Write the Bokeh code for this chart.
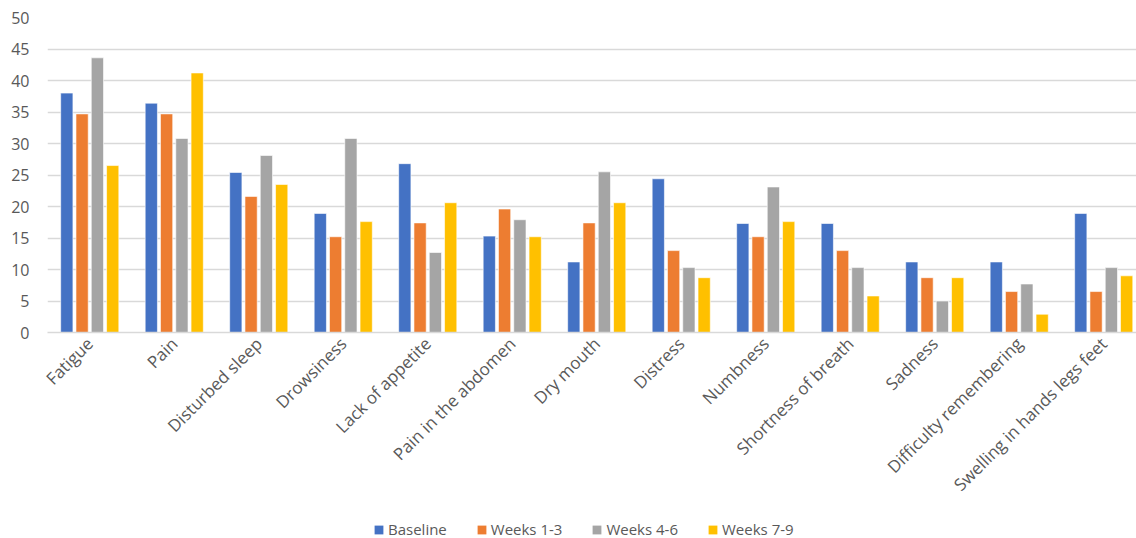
from math import pi

from bokeh.embed import file_html
from bokeh.layouts import column
from bokeh.models import (ColumnDataSource, FixedTicker, Legend, LegendItem,
                          Range1d, SingleIntervalTicker)
from bokeh.plotting import figure
from bokeh.resources import INLINE
from bokeh.transform import dodge

# Symptom categories and mean scores per assessment period
symptoms = [
    "Fatigue", "Pain", "Disturbed sleep", "Drowsiness", "Lack of appetite",
    "Pain in the abdomen", "Dry mouth", "Distress", "Numbness",
    "Shortness of breath", "Sadness", "Difficulty remembering",
    "Swelling in hands legs feet",
]
baseline = [38.0, 36.4, 25.4, 18.9, 26.8, 15.3, 11.2, 24.4, 17.3, 17.3, 11.2, 11.2, 18.9]
weeks_1_3 = [34.7, 34.7, 21.6, 15.2, 17.4, 19.6, 17.4, 13.0, 15.2, 13.0, 8.7, 6.5, 6.5]
weeks_4_6 = [43.6, 30.8, 28.1, 30.8, 12.7, 17.9, 25.5, 10.3, 23.1, 10.3, 5.0, 7.7, 10.3]
weeks_7_9 = [26.5, 41.2, 23.5, 17.6, 20.6, 15.2, 20.6, 8.7, 17.6, 5.8, 8.7, 2.9, 9.0]

series_names = ["Baseline", "Weeks 1-3", "Weeks 4-6", "Weeks 7-9"]
series_values = [baseline, weeks_1_3, weeks_4_6, weeks_7_9]
series_colors = ["#4472C4", "#ED7D31", "#A5A5A5", "#FFC000"]

centers = [i + 0.5 for i in range(len(symptoms))]
data = {"x": centers}
for name, vals in zip(series_names, series_values):
    data[name] = vals
source = ColumnDataSource(data)

FONT = "Open Sans"
TEXT_COLOR = "#595959"
GRID_COLOR = "#D9D9D9"

# ---- main bar chart ----
p = figure(
    width=1136, height=510,
    x_range=Range1d(0, 12.888), y_range=Range1d(0, 50),
    output_backend="svg", toolbar_location=None,
    min_border_left=47, min_border_right=0,
    min_border_top=17, min_border_bottom=178,
)
p.outline_line_color = None
p.background_fill_color = "white"
p.border_fill_color = "white"

pitch = 0.181
bar_width = 0.145
for k, (name, color) in enumerate(zip(series_names, series_colors)):
    p.vbar(
        x=dodge("x", (k - 1.5) * pitch, range=p.x_range),
        top=name, width=bar_width, bottom=0, source=source,
        fill_color=color, line_color="white", line_width=1, line_alpha=0.6,
    )

# Horizontal grid
p.xgrid.grid_line_color = None
p.ygrid.grid_line_color = GRID_COLOR
p.ygrid.grid_line_width = 1.3
p.ygrid.ticker = SingleIntervalTicker(interval=5)

# Y axis
p.yaxis.ticker = SingleIntervalTicker(interval=5)
p.yaxis.axis_line_color = None
p.yaxis.major_tick_line_color = None
p.yaxis.minor_tick_line_color = None
p.yaxis.major_tick_out = 0
p.yaxis.major_label_standoff = 14
p.yaxis.major_label_text_font = FONT
p.yaxis.major_label_text_font_size = "16px"
p.yaxis.major_label_text_color = TEXT_COLOR

# X axis with symptom names
p.xaxis.ticker = FixedTicker(ticks=centers)
p.xaxis.major_label_overrides = {c: s for c, s in zip(centers, symptoms)}
p.xaxis.major_label_orientation = pi / 4
p.xaxis.axis_line_color = GRID_COLOR
p.xaxis.axis_line_width = 1.3
p.xaxis.major_tick_line_color = None
p.xaxis.minor_tick_line_color = None
p.xaxis.major_tick_out = 0
p.xaxis.major_label_standoff = 8
p.xaxis.major_label_text_font = FONT
p.xaxis.major_label_text_font_size = "17px"
p.xaxis.major_label_text_color = TEXT_COLOR

# ---- legend strip beneath the chart ----
# Zero-width copies of the series supply the legend swatches without
# drawing anything in the strip itself.
leg = figure(
    width=1136, height=28,
    x_range=Range1d(0, 12.888), y_range=Range1d(-1000, -999),
    output_backend="svg", toolbar_location=None,
    min_border=0,
)
leg.axis.visible = False
leg.grid.visible = False
leg.outline_line_color = None
leg.background_fill_color = "white"
leg.border_fill_color = "white"

swatches = []
for name, color in zip(series_names, series_colors):
    swatches.append(leg.vbar(x="x", top=name, bottom=0, width=0,
                             source=source, fill_color=color, line_color=None))

legend = Legend(
    items=[LegendItem(label=n, renderers=[r]) for n, r in zip(series_names, swatches)],
    orientation="horizontal",
    location=(326, -1),
    glyph_width=11, glyph_height=11,
    label_standoff=4, spacing=29, padding=0, margin=0,
    label_text_font=FONT, label_text_font_size="15px",
    label_text_color=TEXT_COLOR,
    border_line_color=None, background_fill_alpha=0,
)
leg.add_layout(legend, "center")

open("out.html", "w").write(file_html(column(p, leg, spacing=0), INLINE))
